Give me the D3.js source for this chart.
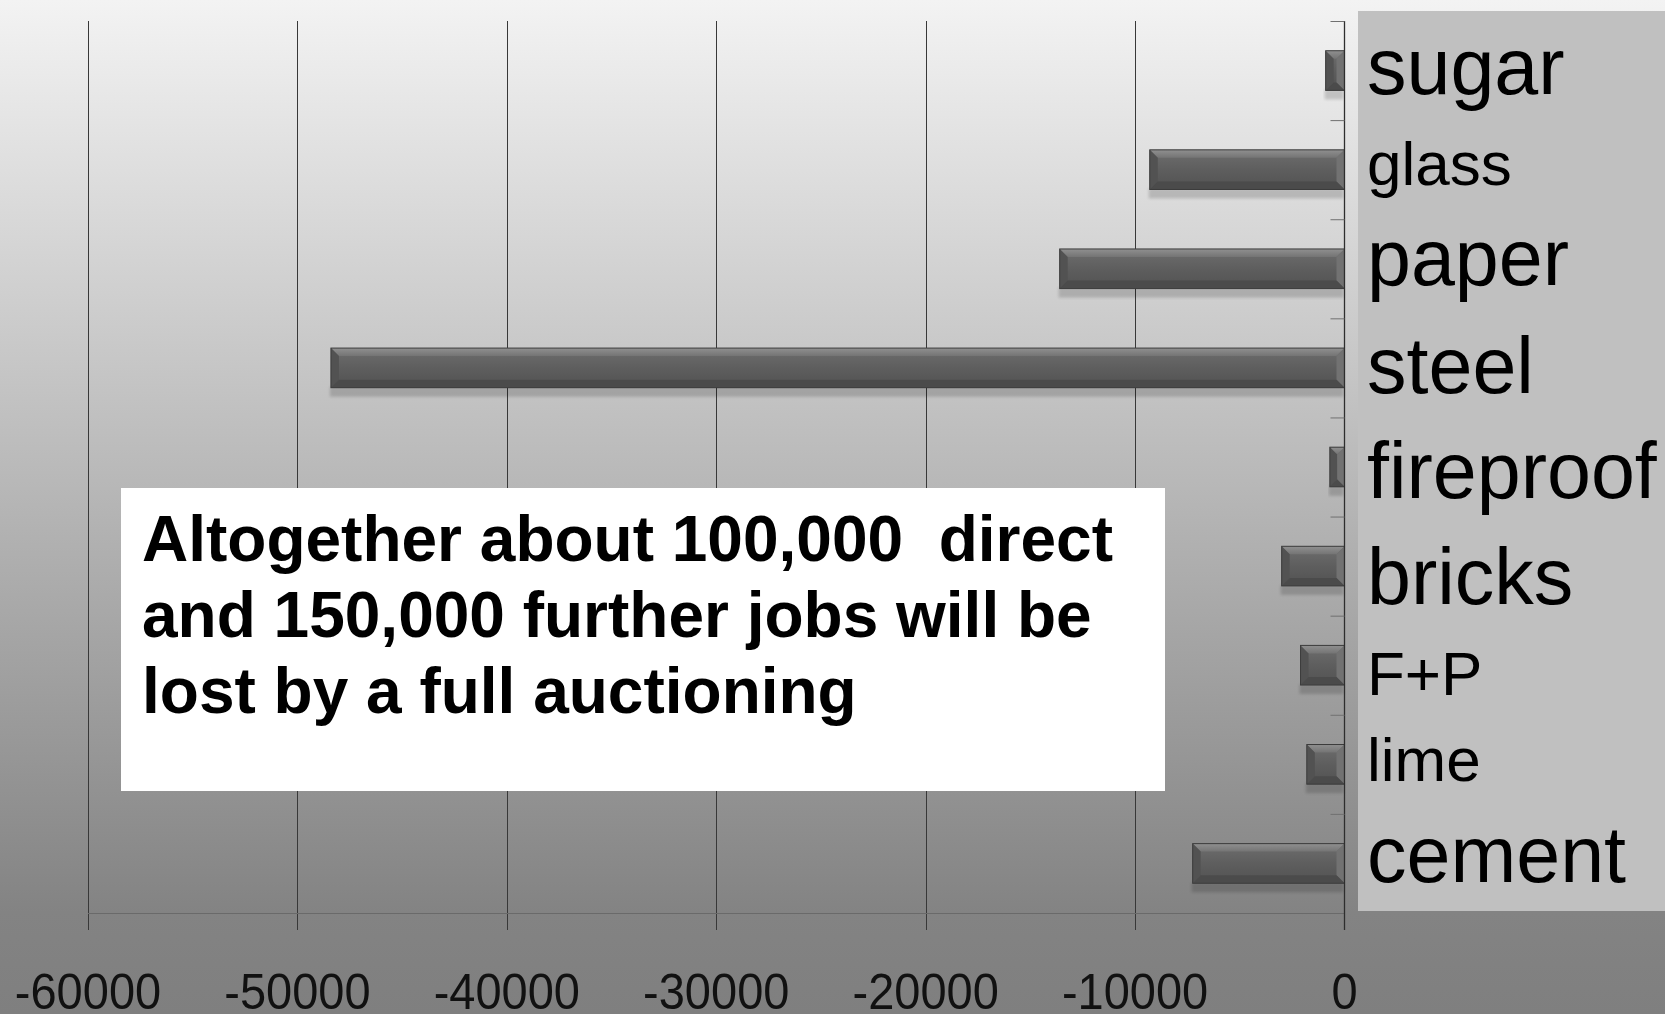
<!DOCTYPE html>
<html>
<head>
<meta charset="utf-8">
<script src="https://cdn.jsdelivr.net/npm/d3@7"></script>
<style>
  html, body { margin: 0; padding: 0; background: #808080; }
  svg { display: block; font-family: "Liberation Sans", Arial, sans-serif; }
</style>
</head>
<body>
<svg id="chart" width="1665" height="1014"></svg>
<script>
// Job losses per industry under full auctioning
const categories = ["sugar", "glass", "paper", "steel", "fireproof", "bricks", "F+P", "lime", "cement"];
const jobLosses = [-900, -9300, -13600, -48400, -700, -3000, -2100, -1800, -7250];
const xTicks = [-60000, -50000, -40000, -30000, -20000, -10000, 0];
const noteLines = [
  "Altogether about 100,000  direct",
  "and 150,000 further jobs will be",
  "lost by a full auctioning"
];

// Category label typography (size in px, baseline offset from band centre)
const labelStyle = {
  "sugar":     { size: 79, dy: 23 },
  "glass":     { size: 62, dy: 15 },
  "paper":     { size: 79, dy: 16 },
  "steel":     { size: 79, dy: 25 },
  "fireproof": { size: 79, dy: 31 },
  "bricks":    { size: 79, dy: 38 },
  "F+P":       { size: 62, dy: 30 },
  "lime":      { size: 62, dy: 17 },
  "cement":    { size: 79, dy: 19 }
};

const W = 1665, H = 1014;
const plotTop = 21, plotBottom = 913;
const svg = d3.select("#chart");
const defs = svg.append("defs");

// Slide background: light at top, mid grey at the bottom
const bg = defs.append("linearGradient").attr("id", "bg")
  .attr("x1", 0).attr("y1", 0).attr("x2", 0).attr("y2", 1);
bg.append("stop").attr("offset", 0).attr("stop-color", "#f3f3f3");
bg.append("stop").attr("offset", 0.9).attr("stop-color", "#838383");
bg.append("stop").attr("offset", 1).attr("stop-color", "#7f7f7f");
svg.append("rect").attr("width", W).attr("height", H).attr("fill", "url(#bg)");

// Bar face gradient
const face = defs.append("linearGradient").attr("id", "barFace")
  .attr("x1", 0).attr("y1", 0).attr("x2", 0).attr("y2", 1);
face.append("stop").attr("offset", 0).attr("stop-color", "#6e6e6e");
face.append("stop").attr("offset", 0.5).attr("stop-color", "#5e5e5e");
face.append("stop").attr("offset", 1).attr("stop-color", "#525252");

const topBevel = defs.append("linearGradient").attr("id", "topBevel")
  .attr("x1", 0).attr("y1", 0).attr("x2", 0).attr("y2", 1);
topBevel.append("stop").attr("offset", 0).attr("stop-color", "#909090");
topBevel.append("stop").attr("offset", 1).attr("stop-color", "#747474");

const shadowBlur = defs.append("filter").attr("id", "shadowBlur")
  .attr("x", "-5%").attr("y", "-50%").attr("width", "110%").attr("height", "200%");
shadowBlur.append("feGaussianBlur").attr("stdDeviation", 1.5);

// Scales
const x = d3.scaleLinear().domain([-60000, 0]).range([88, 1344.5]);
const y = d3.scaleBand().domain(categories).range([plotTop, plotBottom])
  .paddingInner(0.6).paddingOuter(0.3);

// Label panel on the right
svg.append("rect")
  .attr("x", 1358).attr("y", 11)
  .attr("width", W - 1358).attr("height", 900)
  .attr("fill", "#c0c0c0");

// Vertical gridlines with tick extensions below the axis
svg.append("g").selectAll("line")
  .data(xTicks.filter(t => t !== 0))
  .join("line")
  .attr("x1", d => Math.round(x(d)) + 0.5).attr("x2", d => Math.round(x(d)) + 0.5)
  .attr("y1", plotTop).attr("y2", 930)
  .attr("stroke", "#383838").attr("stroke-width", 1);

// Horizontal value axis line
svg.append("line")
  .attr("x1", x(-60000)).attr("x2", x(0))
  .attr("y1", plotBottom + 0.5).attr("y2", plotBottom + 0.5)
  .attr("stroke", "#6a6a6a").attr("stroke-width", 1.2);

// Value axis tick labels
svg.append("g").selectAll("text")
  .data(xTicks)
  .join("text")
  .attr("transform", d => `translate(${x(d)},1009) scale(0.94,1)`)
  .attr("text-anchor", "middle")
  .attr("font-size", 50)
  .attr("fill", "#111")
  .text(d => String(d));

// Bars: drop shadow, bevelled body
const barG = svg.append("g");
categories.forEach((c, i) => {
  const v = jobLosses[i];
  const x0 = x(v), x1 = x(0);
  const y0 = y(c), y1 = y(c) + y.bandwidth();
  const w = x1 - x0;
  const b = Math.min(8, w / 2);
  const g = barG.append("g");

  g.append("rect")
    .attr("x", x0 - 1).attr("y", y1 - 1)
    .attr("width", w).attr("height", 10)
    .attr("fill", "#000").attr("opacity", 0.16)
    .attr("filter", "url(#shadowBlur)");

  g.append("rect")
    .attr("x", x0).attr("y", y0).attr("width", w).attr("height", y1 - y0)
    .attr("fill", "url(#barFace)");

  const poly = (pts, fill) => g.append("polygon")
    .attr("points", pts.map(p => p.join(",")).join(" "))
    .attr("fill", fill);
  poly([[x0, y0], [x1, y0], [x1 - b, y0 + b], [x0 + b, y0 + b]], "url(#topBevel)");
  poly([[x0, y0], [x0 + b, y0 + b], [x0 + b, y1 - b], [x0, y1]], "#525252");
  poly([[x1, y0], [x1, y1], [x1 - b, y1 - b], [x1 - b, y0 + b]], "#727272");
  poly([[x0, y1], [x0 + b, y1 - b], [x1 - b, y1 - b], [x1, y1]], "#4b4b4b");

  g.append("rect")
    .attr("x", x0).attr("y", y0).attr("width", w).attr("height", y1 - y0)
    .attr("fill", "none").attr("stroke", "#3c3c3c").attr("stroke-width", 1);
});

// Category axis: zero line and band ticks
svg.append("line")
  .attr("x1", x(0)).attr("x2", x(0))
  .attr("y1", plotTop).attr("y2", 930)
  .attr("stroke", "#2e2e2e").attr("stroke-width", 1.3);

const step = y.step();
svg.append("g").selectAll("line")
  .data(d3.range(categories.length))
  .join("line")
  .attr("x1", x(0) - 14).attr("x2", x(0))
  .attr("y1", i => plotTop + i * step + 0.5).attr("y2", i => plotTop + i * step + 0.5)
  .attr("stroke", "#707070").attr("stroke-width", 1);

// Category labels in the right panel
svg.append("g").selectAll("text")
  .data(categories)
  .join("text")
  .attr("x", 1367)
  .attr("y", d => y(d) + y.bandwidth() / 2 + labelStyle[d].dy)
  .attr("font-size", d => labelStyle[d].size)
  .attr("fill", "#000")
  .text(d => d);

// Summary note
svg.append("rect")
  .attr("x", 121).attr("y", 488)
  .attr("width", 1165 - 121).attr("height", 791 - 488)
  .attr("fill", "#ffffff");

svg.append("g").selectAll("text")
  .data(noteLines)
  .join("text")
  .attr("x", 142)
  .attr("y", (d, i) => 561 + i * 76)
  .attr("font-size", 64)
  .attr("font-weight", "bold")
  .attr("fill", "#000")
  .style("white-space", "pre")
  .text(d => d);
</script>
</body>
</html>
